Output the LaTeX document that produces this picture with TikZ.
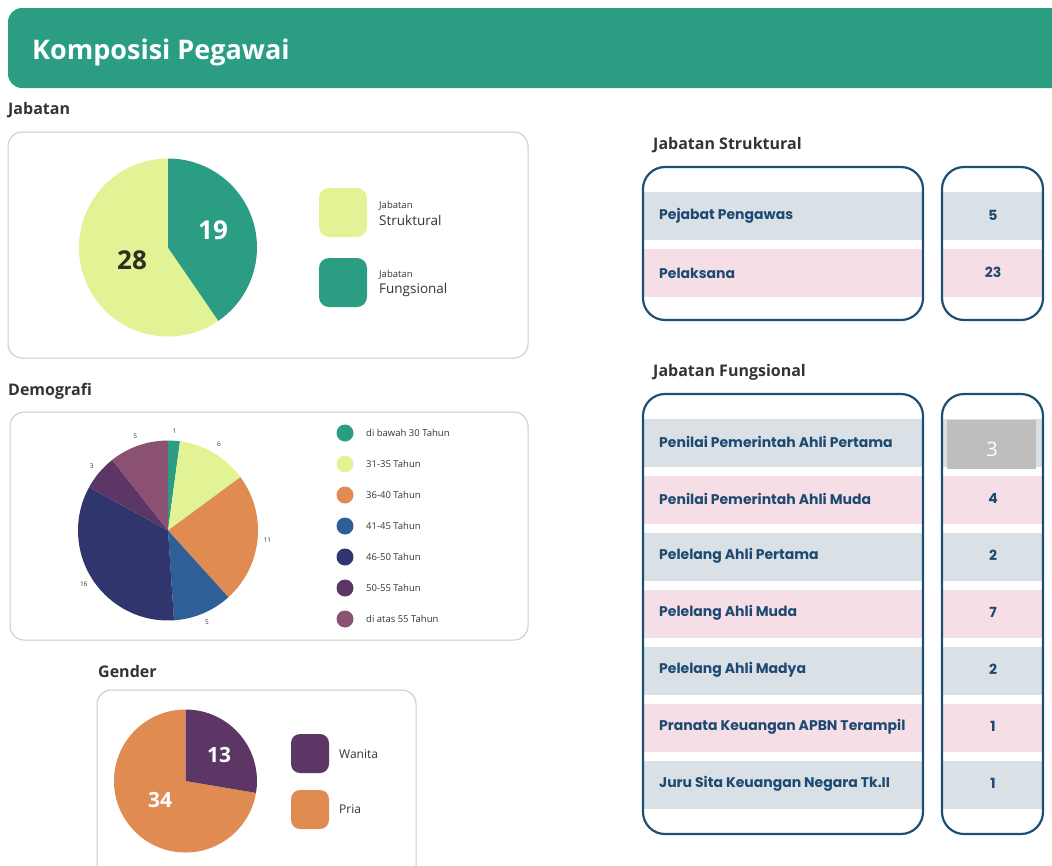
\documentclass[tikz,border=0pt]{standalone}
\usepackage{fontspec}
\setmainfont{Open Sans}
\newfontfamily\popfont{Poppins}
\usepackage{tikz}
\usetikzlibrary{positioning}
\definecolor{hijau}{HTML}{2A9D83}
\definecolor{lime}{HTML}{E1F394}
\definecolor{oranye}{HTML}{DF8B52}
\definecolor{biru}{HTML}{2E5F97}
\definecolor{navy}{HTML}{31356D}
\definecolor{ungu}{HTML}{5C3766}
\definecolor{mauve}{HTML}{8A5172}
\definecolor{garis}{HTML}{C9C9C9}
\definecolor{tabelbiru}{HTML}{1D4E73}
\definecolor{teksbiru}{HTML}{1E4A72}
\definecolor{barisbiru}{HTML}{D9E0E6}
\definecolor{barispink}{HTML}{F6DEE6}
\definecolor{abu}{HTML}{BEBEBE}
\definecolor{judulabu}{HTML}{333333}
\definecolor{zaitun}{HTML}{2C3020}
\tikzset{
  panel/.style={ draw=garis, line width=1pt, rounded corners=14pt }
}
\tikzset{
  tabel/.style={ draw=tabelbiru, line width=2.2pt, rounded corners=22pt }
}
\tikzset{
  subjudul/.style={ anchor=base west, inner sep=0pt, text=judulabu, font=\bfseries\fontsize{16}{19}\selectfont }
}
\tikzset{
  angka/.style={ inner sep=0pt, font=\bfseries\fontsize{26}{30}\selectfont }
}
\tikzset{
  legenda/.style={ anchor=west, inner sep=0pt, text=judulabu, font=\fontsize{13.5}{16}\selectfont }
}
\tikzset{
  kecil/.style={ anchor=west, inner sep=0pt, text=judulabu, font=\fontsize{9.5}{11}\selectfont }
}
\tikzset{
  usia/.style={ anchor=west, inner sep=0pt, text=judulabu, font=\fontsize{9.5}{11}\selectfont }
}
\tikzset{
  baris/.style={ anchor=west, inner sep=0pt, text=teksbiru, font=\popfont\bfseries\fontsize{14}{16}\selectfont }
}
\tikzset{
  nilai/.style={ inner sep=0pt, text=teksbiru, font=\popfont\bfseries\fontsize{14}{16}\selectfont }
}

\begin{document}
\begin{tikzpicture}[x=1pt, y=-1pt]
  \useasboundingbox (0,0) rectangle (1052,865);

  % header
  \fill[hijau, rounded corners=14pt] (8,8) rectangle (1080,88);
  \node[anchor=base west, inner sep=0pt, text=white, font=\bfseries\fontsize{27}{32}\selectfont] (judul) at (32,59) {Komposisi Pegawai};

  % Jabatan
  \node[subjudul] (tjab) at (8,114) {Jabatan};
  \draw[panel] (8,132) rectangle (528,358);
  \coordinate (pj) at (168,247.5);
  \fill[lime] (pj) -- ++(55.53:89) arc[start angle=55.53, end angle=270, radius=89] -- cycle;
  \fill[hijau] (pj) -- ++(-90:89) arc[start angle=-90, end angle=55.53, radius=89] -- cycle;
  \node[angka, text=white] (n19) at (213,230) {19};
  \node[angka, text=zaitun] (n28) at (132,260) {28};
  \fill[lime, rounded corners=10pt] (319,188) rectangle (367,237);
  \fill[hijau, rounded corners=10pt] (319,258) rectangle (367,307);
  \node[legenda] (lstr) at (379,220) {Struktural};
  \node[kecil, above right=4pt and 0pt of lstr.north west] (lstrj) {Jabatan};
  \node[legenda] (lfung) at (379,290) {Fungsional};
  \node[kecil, above right=4pt and 0pt of lfung.north west] (lfungj) {Jabatan};

  % Demografi
  \node[subjudul] (tdem) at (8,395) {Demografi};
  \draw[panel] (10,412) rectangle (528,640);
  \coordinate (pd) at (168,530.5);
  \foreach \a/\b/\c/\n [count=\i] in {-90/-82.34/hijau/1, -82.34/-36.38/lime/6, -36.38/47.87/oranye/11,
      47.87/86.17/biru/5, 86.17/208.72/navy/16, 208.72/231.70/ungu/3, 231.70/270/mauve/5}{
    \fill[\c] (pd) -- ++(\a:90) arc[start angle=\a, end angle=\b, radius=90] -- cycle;
    \path (pd) ++({(\a+\b)/2}:100) node[inner sep=0pt, text=judulabu, font=\fontsize{6.5}{7}\selectfont] (d\i) {\n};
  }
  \foreach \t/\c [count=\i] in {di bawah 30 Tahun/hijau, 31-35 Tahun/lime, 36-40 Tahun/oranye,
      41-45 Tahun/biru, 46-50 Tahun/navy, 50-55 Tahun/ungu, di atas 55 Tahun/mauve}{
    \fill[\c] (345,{433+31*(\i-1)}) circle[radius=8.5];
    \node[usia] (u\i) at (366,{433+31*(\i-1)}) {\t};
  }

  % Gender
  \node[subjudul] (tgen) at (98,677) {Gender};
  \draw[panel] (97,690) rectangle (416,885);
  \coordinate (pg) at (185.5,781);
  \fill[oranye] (pg) -- ++(9.57:71.5) arc[start angle=9.57, end angle=270, radius=71.5] -- cycle;
  \fill[ungu] (pg) -- ++(-90:71.5) arc[start angle=-90, end angle=9.57, radius=71.5] -- cycle;
  \node[angka, text=white, font=\bfseries\fontsize{21}{25}\selectfont] (n13) at (219,755) {13};
  \node[angka, text=white, font=\bfseries\fontsize{21}{25}\selectfont] (n34) at (160,800) {34};
  \fill[ungu, rounded corners=9pt] (291,734) rectangle (329,773);
  \fill[oranye, rounded corners=9pt] (291,790) rectangle (329,829);
  \node[legenda, font=\fontsize{12}{14}\selectfont] (lwan) at (339,754) {Wanita};
  \node[legenda, font=\fontsize{12}{14}\selectfont] (lpria) at (339,809) {Pria};

  % Jabatan Struktural
  \node[subjudul] (tstr) at (653,149) {Jabatan Struktural};
  \foreach \t/\n/\c [count=\i] in {Pejabat Pengawas/5/barisbiru, Pelaksana/23/barispink}{
    \fill[\c] (643,{192+57*(\i-1)}) rectangle (923,{240+57*(\i-1)});
    \fill[\c] (942,{192+57*(\i-1)}) rectangle (1043,{240+57*(\i-1)});
    \node[baris] (s\i) at (659,{216+57*(\i-1)}) {\t};
    \node[nilai] (sn\i) at (993,{215+57*(\i-1)}) {\n};
  }
  \draw[tabel] (643,167) rectangle (923,320);
  \draw[tabel] (942,167) rectangle (1043,320);

  % Jabatan Fungsional
  \node[subjudul] (tfung) at (653,376) {Jabatan Fungsional};
  \foreach \t/\n/\c [count=\i] in {Penilai Pemerintah Ahli Pertama//barisbiru, Penilai Pemerintah Ahli Muda/4/barispink,
      Pelelang Ahli Pertama/2/barisbiru, Pelelang Ahli Muda/7/barispink, Pelelang Ahli Madya/2/barisbiru,
      Pranata Keuangan APBN Terampil/1/barispink, Juru Sita Keuangan Negara Tk.II/1/barisbiru}{
    \fill[\c] (643,{419+57*(\i-1)}) rectangle (923,{467+57*(\i-1)});
    \fill[\c] (942,{419+57*(\i-1)}) rectangle (1043,{467+57*(\i-1)});
    \node[baris] (f\i) at (659,{442+57*(\i-1)}) {\t};
    \node[nilai] (fn\i) at (993,{441+57*(\i-1)}) {\n};
  }
  \fill[abu] (947,420) rectangle (1036,469);
  \node[inner sep=0pt, text=white, font=\fontsize{20}{24}\selectfont] (f1n) at (992,449) {3};
  \draw[tabel] (643,394) rectangle (923,834);
  \draw[tabel] (942,394) rectangle (1043,834);
\end{tikzpicture}
\end{document}
